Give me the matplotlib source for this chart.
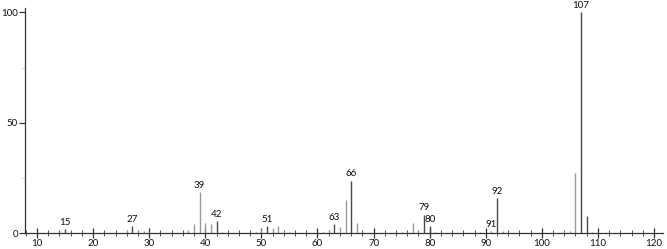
import matplotlib
matplotlib.use("Agg")
import matplotlib.pyplot as plt
from matplotlib.ticker import MultipleLocator

mz = [14, 15, 26, 27, 28, 29, 30, 37, 38, 39, 40, 41, 42, 43,
      49, 50, 51, 52, 53, 54, 55, 61, 62, 63, 64, 65, 66, 67, 68,
      74, 75, 76, 77, 78, 79, 80, 81, 89, 91, 92, 93,
      104, 105, 106, 107, 108, 109]
intensity = [0.6, 1.7, 1.5, 3.1, 1.5, 0.7, 0.4, 1.4, 4.0, 18.6, 4.7, 4.0, 5.5, 0.5,
             0.5, 2.0, 3.2, 2.3, 3.0, 1.0, 0.5, 0.5, 1.4, 4.0, 2.5, 15.0, 23.8, 4.5, 0.6,
             0.5, 0.5, 0.6, 4.4, 1.3, 8.3, 3.0, 0.6, 0.4, 1.0, 15.8, 1.0,
             1.0, 0.7, 27.0, 100.0, 7.8, 0.5]
labeled = [15, 27, 39, 42, 51, 63, 66, 79, 80, 91, 92, 107]
xticks = [10, 20, 30, 40, 50, 60, 70, 80, 90, 100, 110, 120]
yticks = [0, 50, 100]

fig = plt.figure(figsize=(6.67, 2.49), dpi=100)
ax = fig.add_axes([25/667, 1-233/249, 638/667, 225/249])
dark = {107, 108, 92, 79, 80, 66, 27, 15, 63, 51, 42}
for m, v in zip(mz, intensity):
    c = '#4a4a4a' if m in dark else '#999999'
    ax.vlines(m, 0, v, color=c, linewidth=1.0)
lookup = dict(zip(mz, intensity))
for m in labeled:
    ax.text(m, lookup[m] + 1.0, str(m), ha='center', va='bottom', fontsize=7,
            family='Lato', color='#111111')

ax.set_xlim(7.86, 121.6)
ax.set_ylim(0, 102)
ax.set_xticks(xticks)
ax.set_yticks(yticks)
ax.xaxis.set_minor_locator(MultipleLocator(2))
ax.yaxis.set_minor_locator(MultipleLocator(25))
for s in ['top', 'right']:
    ax.spines[s].set_visible(False)
for s in ['left', 'bottom']:
    ax.spines[s].set_color('#333333')
    ax.spines[s].set_linewidth(0.9)
ax.tick_params(axis='x', which='major', direction='inout', length=7, width=0.9,
               labelsize=7, pad=1, colors='#333333')
ax.tick_params(axis='x', which='minor', direction='inout', length=4, width=0.7, colors='#555555')
ax.tick_params(axis='y', which='major', direction='out', length=4, width=0.9,
               labelsize=7, pad=1, colors='#333333')
ax.tick_params(axis='y', which='minor', direction='out', length=3, width=0.5, colors='#cccccc')
for lab in ax.get_xticklabels() + ax.get_yticklabels():
    lab.set_family('Lato')
    lab.set_color('#111111')
fig.savefig('out.png', dpi=100)
